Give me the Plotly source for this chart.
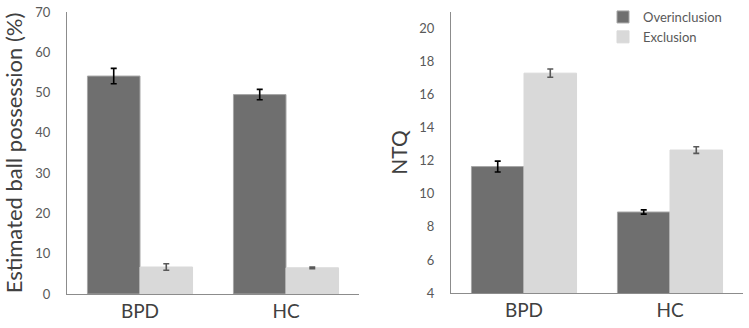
import plotly.graph_objects as go

categories = ["BPD", "HC"]
series_names = ["Overinclusion", "Exclusion"]

ball_over = [54.1, 49.5]
ball_over_err = [1.9, 1.3]
ball_excl = [6.7, 6.5]
ball_excl_err = [0.8, 0.2]

ntq_over = [11.65, 8.9]
ntq_over_err = [0.33, 0.13]
ntq_excl = [17.3, 12.65]
ntq_excl_err = [0.25, 0.2]

DARK = "#6f6f6f"
LIGHT = "#d9d9d9"
FONT = "Lato, 'Open Sans', sans-serif"
W, H = 749, 328

fig = go.Figure()

def add(x, y, err, color, errcolor, name, xa, ya, show, linecolor):
    fig.add_trace(go.Bar(
        x=x, y=y, name=name, xaxis=xa, yaxis=ya, showlegend=show,
        marker=dict(color=color, line=dict(color=linecolor, width=1)),
        error_y=dict(type="data", array=err, color=errcolor, thickness=1.6, width=3),
        legendgroup=name,
    ))

add(categories, ball_over, ball_over_err, DARK, "#000000", series_names[0], "x", "y", False, "#a6a6a6")
add(categories, ball_excl, ball_excl_err, LIGHT, "#595959", series_names[1], "x", "y", False, LIGHT)
add(categories, ntq_over, ntq_over_err, DARK, "#000000", series_names[0], "x2", "y2", True, "#a6a6a6")
add(categories, ntq_excl, ntq_excl_err, LIGHT, "#595959", series_names[1], "x2", "y2", True, LIGHT)

ydom = [(H - 294) / H, (H - 12) / H]
axis_common = dict(showline=True, linecolor="#8c8c8c", linewidth=1.3, showgrid=False,
                   zeroline=False, ticks="", automargin=False)

fig.update_layout(
    width=W, height=H,
    margin=dict(l=0, r=0, t=0, b=0, autoexpand=False),
    plot_bgcolor="white", paper_bgcolor="white",
    barmode="group", bargap=0.28, bargroupgap=0,
    font=dict(family=FONT, color="#595959"),
    xaxis=dict(domain=[67 / W, 359 / W], anchor="y",
               tickfont=dict(size=19, color="#404040"), ticklabelstandoff=0, **axis_common),
    yaxis=dict(domain=ydom, anchor="x", range=[0, 70], dtick=10,
               tickfont=dict(size=13, color="#595959"), ticklabelstandoff=13,
               title=dict(text="Estimated ball possession (%)", font=dict(size=22, color="#404040"), standoff=12),
               **axis_common),
    xaxis2=dict(domain=[451 / W, 743 / W], anchor="y2",
                tickfont=dict(size=19, color="#404040"), ticklabelstandoff=0, **axis_common),
    yaxis2=dict(domain=[(H - 293) / H, (H - 12) / H], anchor="x2", range=[4, 21], tickvals=[4, 6, 8, 10, 12, 14, 16, 18, 20],
                tickfont=dict(size=13, color="#595959"), ticklabelstandoff=13,
                title=dict(text="NTQ", font=dict(size=21, color="#404040"), standoff=5),
                **axis_common),
    legend=dict(x=603 / W, y=1 - 2 / H, xanchor="left", yanchor="top",
                font=dict(size=13, color="#595959"), bgcolor="rgba(0,0,0,0)",
                tracegroupgap=0, itemwidth=30, traceorder="normal"),
)

fig.write_html("out.html", config={"displayModeBar": False},
               post_script="document.body.style.margin='0';document.body.style.padding='0';")
